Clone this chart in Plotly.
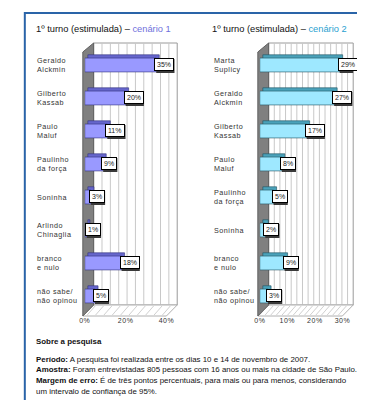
import plotly.graph_objects as go

OFF = 8  # page body margin
W, H = 365 - OFF, 400 - OFF

cats1 = ["Geraldo<br>Alckmin", "Gilberto<br>Kassab", "Paulo<br>Maluf", "Paulinho<br>da força",
         "Soninha", "Arlindo<br>Chinaglia", "branco<br>e nulo", "não sabe/<br>não opinou"]
vals1 = [35, 20, 11, 9, 3, 1, 18, 5]
cats2 = ["Marta<br>Suplicy", "Geraldo<br>Alckmin ", "Gilberto<br>Kassab ", "Paulo<br>Maluf ",
         "Paulinho<br>da força ", "Soninha ", "branco<br>e nulo ", "não sabe/<br>não opinou "]
vals2 = [29, 27, 17, 8, 5, 2, 9, 3]
ticks1 = [0, 20, 40]
ticks2 = [0, 10, 20, 30]
title1 = "1º turno (estimulada) – "
sub1 = "cenário 1"
sub2 = "cenário 2"
notes_title = "Sobre a pesquisa"
notes = [
    "<b>Período:</b> A pesquisa foi realizada entre os dias 10 e 14 de novembro de 2007.",
    "<b>Amostra:</b> Foram entrevistadas 805 pessoas com 16 anos ou mais na cidade de São Paulo.",
    "<b>Margem de erro:</b> É de três pontos percentuais, para mais ou para menos, considerando",
    "um intervalo de confiança de 95%.",
]


def X(p):
    return (p - OFF) / W


def Y(p):
    return 1 - (p - OFF) / H


FONT = "Liberation Sans"
fig = go.Figure()

panels = [
    dict(cats=cats1, vals=vals1, ticks=ticks1, x0=80, xmax_px=174, span=40, span_px=83,
         front="#9999ff", side="#6666cc", edge="#30307a", xa="x", ya="y",
         wall=(78, 89), back=(89, 174), ndiv=10, lab_x=29, title_x=28, sub=sub1, subc="#7070dc",
         depth=1.5),
    dict(cats=cats2, vals=vals2, ticks=ticks2, x0=258, xmax_px=353, span=30, span_px=84,
         front="#9ee8ff", side="#4aa2ba", edge="#205060", xa="x2", ya="y2",
         wall=(256, 267), back=(267, 353), ndiv=15, lab_x=209, title_x=207, sub=sub2, subc="#2a9fd0",
         depth=1.1),
]

shapes = []
annotations = []
ytop, ybot = 48.5, 312.5
for i, p in enumerate(panels):
    rng_max = p["span"] * (p["xmax_px"] - p["x0"]) / p["span_px"]
    # 3D side face (shadow bar)
    fig.add_trace(go.Bar(
        y=p["cats"], x=p["vals"], base=[p["depth"]] * len(p["vals"]), orientation="h",
        width=0.42, offset=-0.31, marker=dict(color=p["side"], line=dict(color=p["edge"], width=0.6)),
        xaxis=p["xa"], yaxis=p["ya"], hoverinfo="skip", showlegend=False))
    fig.add_trace(go.Bar(
        y=p["cats"], x=p["vals"], orientation="h", width=0.42, offset=-0.21,
        marker=dict(color=p["front"], line=dict(color=p["edge"], width=0.6)),
        xaxis=p["xa"], yaxis=p["ya"], showlegend=False))

    axn = "" if i == 0 else "2"
    fig.update_layout({
        f"xaxis{axn}": dict(domain=[X(p["x0"]), X(p["xmax_px"])], range=[0, rng_max],
                             tickvals=p["ticks"],
                             ticktext=[f"<span style='letter-spacing:0.5px'>{t}%</span>" for t in p["ticks"]],
                             showgrid=False, zeroline=False, showline=False, ticks="",
                             tickfont=dict(family=FONT, size=7, color="#333"),
                             ticklabelstandoff=2,
                             anchor=p["ya"], fixedrange=True),
        f"yaxis{axn}": dict(domain=[Y(ybot), Y(ytop)], type="category", autorange="reversed",
                             showticklabels=False, showgrid=False, zeroline=False, showline=False,
                             anchor=p["xa"], fixedrange=True),
    })

    # decorative 3D box: back plane, wall, floor
    bx0, bx1 = p["back"]
    wx0, wx1 = p["wall"]
    top, bot, ftop = 43, 316, 305
    shapes.append(dict(type="rect", xref="paper", yref="paper", x0=X(bx0), x1=X(bx1),
                       y0=Y(ftop), y1=Y(top), fillcolor="white", line=dict(color="#9a9a9a", width=1),
                       layer="below"))
    for k in range(1, p["ndiv"]):
        gx = bx0 + (bx1 - bx0) * k / p["ndiv"]
        shapes.append(dict(type="line", xref="paper", yref="paper", x0=X(gx), x1=X(gx),
                           y0=Y(ftop), y1=Y(top), line=dict(color="#c8c8c8", width=1), layer="below"))
    # floor
    fl = (f"M {X(wx1)} {Y(ftop)} L {X(bx1)} {Y(ftop)} L {X(bx1 - (wx1 - wx0))} {Y(bot)} "
          f"L {X(wx0)} {Y(bot)} Z")
    shapes.append(dict(type="path", xref="paper", yref="paper", path=fl, fillcolor="white",
                       line=dict(color="#b0b0b0", width=1), layer="below"))
    for k in range(1, p["ndiv"] + 1):
        gx = wx0 + (bx1 - bx0) * k / p["ndiv"]
        shapes.append(dict(type="line", xref="paper", yref="paper", x0=X(gx - 4), x1=X(gx + 4),
                           y0=Y(bot - 1), y1=Y(ftop + 1), line=dict(color="#d0d0d0", width=1),
                           layer="below"))
    # wall
    wl = (f"M {X(wx0)} {Y(52)} L {X(wx1)} {Y(top)} L {X(wx1)} {Y(ftop)} L {X(wx0)} {Y(bot)} Z")
    shapes.append(dict(type="path", xref="paper", yref="paper", path=wl, fillcolor="#808080",
                       line=dict(color="#606060", width=1), layer="below"))

    # category labels
    for c in p["cats"]:
        annotations.append(dict(xref="paper", yref=p["ya"], x=X(p["lab_x"]), y=c,
                                text=f"<span style='letter-spacing:0.5px'>{c.strip()}</span>",
                                xanchor="left", yanchor="middle", showarrow=False, align="left",
                                font=dict(family=FONT, size=7.2, color="#333")))
    # value labels with drop shadow (shadow drawn as pixel-sized shape anchored at value)
    for j, (c, v) in enumerate(zip(p["cats"], p["vals"])):
        txt = f"{v}%"
        wbox = 4.1 * len(txt) + 6
        shapes.append(dict(type="rect", xref=p["xa"], yref=p["ya"], xsizemode="pixel",
                           ysizemode="pixel", xanchor=v, yanchor=j, x0=0, x1=wbox,
                           y0=-8, y1=6, fillcolor="#3a3a3a",
                           line=dict(width=0), layer="above"))
        annotations.append(dict(
            xref=p["xa"], yref=p["ya"], x=v, y=c, text=txt, xanchor="left", yanchor="middle",
            showarrow=False, xshift=-2, yshift=1, bgcolor="white",
            bordercolor="black", borderwidth=1, borderpad=2,
            font=dict(family=FONT, size=7, color="#222")))
    # title
    annotations.append(dict(xref="paper", yref="paper", x=X(p["title_x"]), y=Y(29),
                            text=f"{title1}<span style='color:{p['subc']}'>{p['sub']}</span>",
                            xanchor="left", yanchor="middle", showarrow=False,
                            font=dict(family=FONT, size=9.3, color="#111")))

# notes
annotations.append(dict(xref="paper", yref="paper", x=X(28), y=Y(341), text=f"<b>{notes_title}</b>",
                        xanchor="left", yanchor="middle", showarrow=False,
                        font=dict(family=FONT, size=7.9, color="#111")))
for j, line in enumerate(notes):
    annotations.append(dict(xref="paper", yref="paper", x=X(28), y=Y(359 + j * 10.7),
                            text=line, xanchor="left", yanchor="middle", showarrow=False,
                            font=dict(family=FONT, size=7.9, color="#111")))

# outer frame
shapes.append(dict(type="rect", xref="paper", yref="paper", x0=X(19), x1=X(359), y0=Y(415), y1=Y(13),
                   line=dict(color="#2a64a8", width=2), fillcolor="rgba(0,0,0,0)", layer="below"))

fig.update_layout(width=W, height=H, margin=dict(l=0, r=0, t=0, b=0), barmode="overlay",
                  paper_bgcolor="white", plot_bgcolor="rgba(0,0,0,0)", shapes=shapes,
                  annotations=annotations, showlegend=False)
fig.write_html("out.html")
